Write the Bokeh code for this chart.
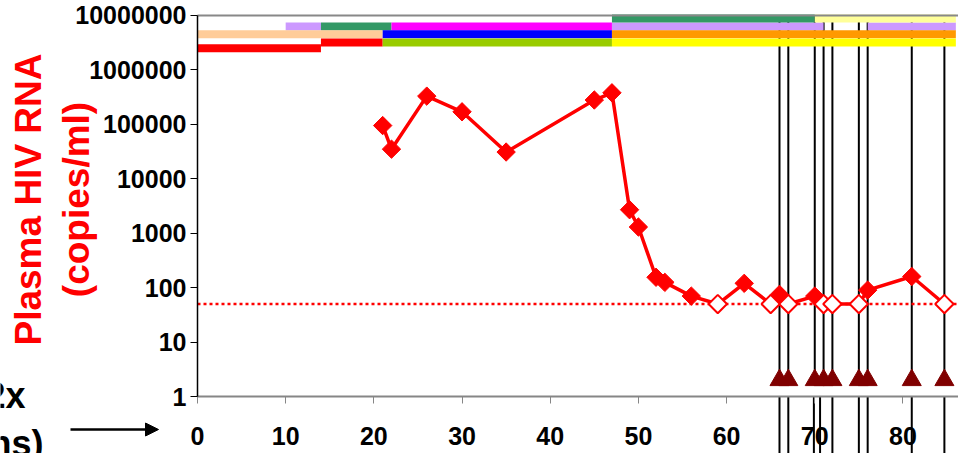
import math
from bokeh.plotting import figure
from bokeh.models import (FixedTicker, Label, Arrow, NormalHead, LinearAxis,
                          Range1d, ColumnDataSource)
from bokeh.embed import file_html
from bokeh.resources import INLINE

# ---------------- data ----------------
weeks = [21, 22, 26, 30, 35, 45, 47, 49, 50, 52, 53, 56,
         59, 62, 65, 66, 67, 70, 71, 72, 75, 76, 81, 84.7]
rna = [95000, 35000, 330000, 170000, 31000, 280000, 380000, 2700, 1300, 155, 125, 70,
       50, 120, 50, 75, 50, 70, 50, 50, 50, 90, 160, 50]
below_limit = [False] * 12 + [True, False, True, False, True, False,
                              True, True, True, False, False, True]
detection_limit = 50

event_weeks = [66, 67, 70, 71, 72, 75, 76, 81, 84.7]
event_value = 2
lower_event_weeks = [66, 67, 69.9, 70.6, 72, 75, 76, 81, 84.7]

reg_start = [10, 14, 22, 47, 76, 47, 70, 0, 21, 47, 14, 21, 47, 0]
reg_end = [14, 22, 47, 71, 86, 70, 86, 21, 47, 86, 21, 47, 86, 14]
reg_row = [1, 1, 1, 1, 1, 0, 0, 2, 2, 2, 3, 3, 3, 4]
reg_color = ["#CC99FF", "#339966", "#FF00FF", "#CC99FF", "#CC99FF", "#339966", "#FFFF99",
             "#FFCC99", "#0000FF", "#FF9900", "#FF0000", "#99CC00", "#FFFF00", "#FF0000"]

x_ticks = [0, 10, 20, 30, 40, 50, 60, 70, 80]
y_ticks = [1, 10, 100, 1000, 10000, 100000, 1000000, 10000000]
y_tick_labels = ["1", "10", "100", "1000", "10000", "100000", "1000000", "10000000"]

# ---------------- layout constants ----------------
row_levels = [8.8e6, 6.3e6, 4.5e6, 3.2e6, 2.5e6]
X_MIN, X_MAX = -22.34, 86.30
Y_MIN, Y_MAX = 10 ** -1.0472, 10 ** 7.2754
FONT = "Liberation Sans"
W, H = 958, 453

p = figure(width=W, height=H,
           x_range=Range1d(X_MIN, X_MAX), y_range=Range1d(Y_MIN, Y_MAX),
           y_axis_type="log", output_backend="svg", toolbar_location=None,
           min_border_left=0, min_border_right=0, min_border_top=0, min_border_bottom=0)
p.grid.visible = False
p.outline_line_color = None
p.background_fill_color = "white"
p.border_fill_color = "white"

x0_axis = x_ticks[0]

# event lines (upper panel and lower panel continuation)
n_ev = len(event_weeks)
p.segment(x0=event_weeks, y0=[event_value] * n_ev, x1=event_weeks, y1=[y_ticks[-1]] * n_ev,
          line_color="black", line_width=2)
n_lo = len(lower_event_weeks)
p.segment(x0=lower_event_weeks, y0=[Y_MIN] * n_lo, x1=lower_event_weeks, y1=[y_ticks[0]] * n_lo,
          line_color="black", line_width=2)

# regimen bars
bars = ColumnDataSource(dict(x0=reg_start, x1=reg_end,
                             y=[row_levels[r] for r in reg_row], color=reg_color))
p.segment(x0="x0", y0="y", x1="x1", y1="y", line_color="color", line_width=8, source=bars)

# detection limit
p.line([x0_axis, X_MAX], [detection_limit, detection_limit], line_color="red",
       line_width=2.5, line_dash="3 3")

# viral load line
p.line(weeks, rna, line_color="red", line_width=3.5)
fx = [w for w, b in zip(weeks, below_limit) if not b]
fy = [v for v, b in zip(rna, below_limit) if not b]
ox = [w for w, b in zip(weeks, below_limit) if b]
oy = [v for v, b in zip(rna, below_limit) if b]
p.scatter(fx, fy, marker="square", angle=math.pi / 4, size=13,
          fill_color="red", line_color="red", line_width=1)
p.scatter(ox, oy, marker="square", angle=math.pi / 4, size=13,
          fill_color="white", line_color="red", line_width=2)

# event triangles
p.scatter(event_weeks, [event_value] * n_ev, marker="triangle", size=19,
          fill_color="#800000", line_color="#800000")

# axes
xa = p.xaxis[0]
xa.fixed_location = y_ticks[0]
xa.bounds = (x0_axis, X_MAX)
xa.ticker = FixedTicker(ticks=x_ticks)
xa.axis_line_color = "#868686"
xa.axis_line_width = 2
xa.major_tick_line_color = "#868686"
xa.major_tick_out = 7
xa.major_tick_in = 0
xa.minor_tick_line_color = None
xa.major_label_standoff = 23
xa.major_label_text_font = FONT
xa.major_label_text_font_style = "bold"
xa.major_label_text_font_size = "25px"
xa.major_label_text_color = "black"

# top border line
top_axis = LinearAxis(fixed_location=y_ticks[-1], bounds=(x0_axis, X_MAX),
                      ticker=FixedTicker(ticks=[]), axis_line_color="#888888",
                      axis_line_width=2, major_tick_line_color=None,
                      minor_tick_line_color=None, major_label_text_font_size="0px")
p.add_layout(top_axis, "below")

ya = p.yaxis[0]
ya.fixed_location = x0_axis
ya.bounds = (y_ticks[0], y_ticks[-1])
ya.ticker = FixedTicker(ticks=y_ticks)
ya.major_label_overrides = {t: s for t, s in zip(y_ticks, y_tick_labels)}
ya.axis_line_color = "black"
ya.axis_line_width = 1.5
ya.major_tick_line_color = "black"
ya.major_tick_out = 7
ya.major_tick_in = 0
ya.minor_tick_line_color = None
ya.major_label_standoff = 4
ya.major_label_text_font = FONT
ya.major_label_text_font_style = "bold"
ya.major_label_text_font_size = "25px"
ya.major_label_text_color = "black"

# red axis title (two lines), positions in canvas pixels from bottom-left
for txt, sx in (("Plasma HIV RNA", 28), ("(copies/ml)", 76)):
    p.add_layout(Label(x=sx, y=254, x_units="screen", y_units="screen", text=txt,
                       angle=math.pi / 2, text_align="center", text_baseline="middle",
                       text_color="red", text_font=FONT, text_font_style="bold",
                       text_font_size="37px"))

# cut-off label of the lower panel and arrow
p.add_layout(Label(x=25, y=58, x_units="screen", y_units="screen", text="2x",
                   text_align="right", text_baseline="alphabetic", text_color="black",
                   text_font=FONT, text_font_style="bold", text_font_size="36px"))
p.add_layout(Label(x=43, y=10, x_units="screen", y_units="screen", text="ns)",
                   text_align="right", text_baseline="alphabetic", text_color="black",
                   text_font=FONT, text_font_style="bold", text_font_size="36px"))
p.add_layout(Arrow(end=NormalHead(size=13, fill_color="black", line_color="black"),
                   x_start=70, y_start=24, x_end=158, y_end=24,
                   start_units="screen", end_units="screen",
                   line_color="black", line_width=2.5))

open("out.html", "w").write(file_html(p, INLINE))
